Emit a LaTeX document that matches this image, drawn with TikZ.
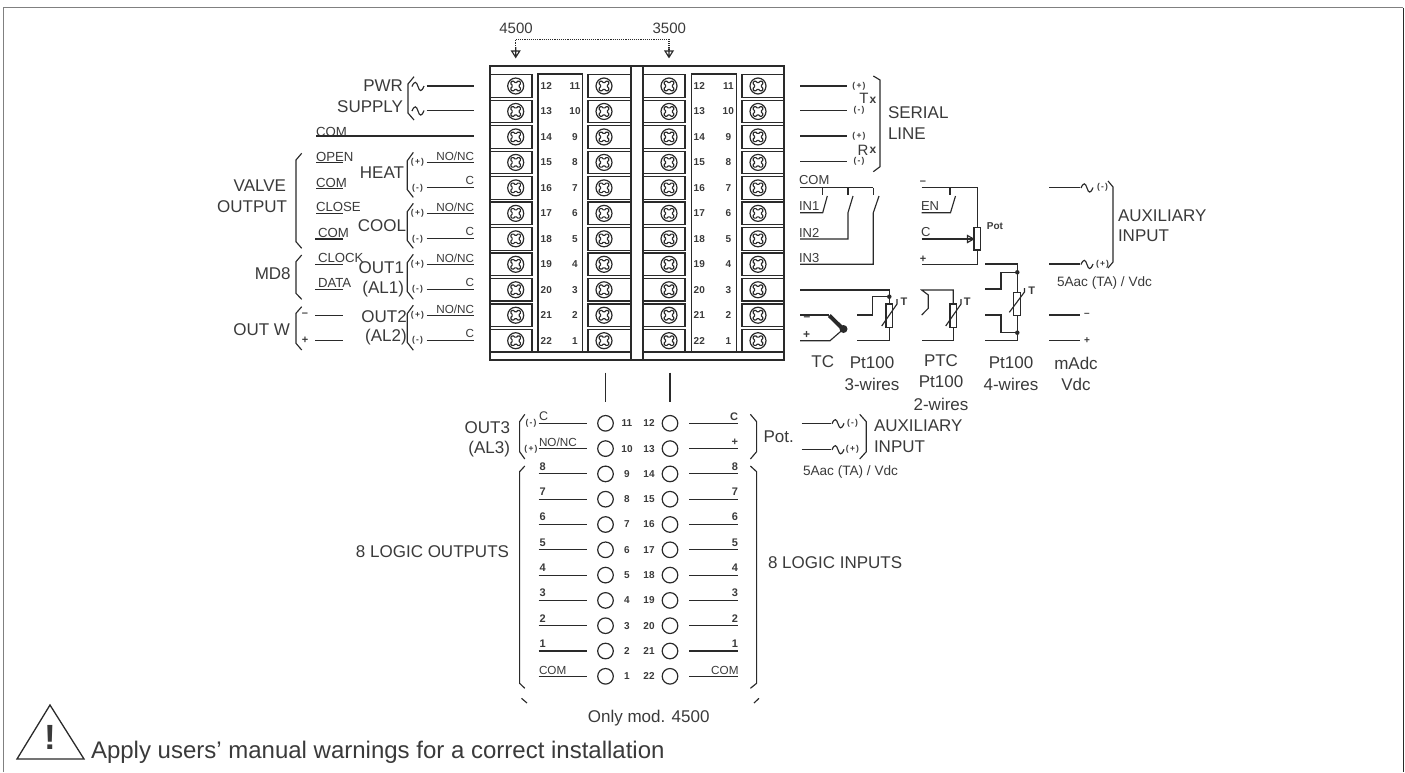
\documentclass[tikz,border=0pt]{standalone}
\usepackage{fontspec}
\setmainfont{Liberation Sans}
\usetikzlibrary{arrows.meta}
\definecolor{ink}{HTML}{2A2A2A}
\definecolor{txt}{HTML}{3A3A3A}
\newcounter{nn}
\newcommand{\fs}[1]{\fontsize{#1}{#1}\selectfont}
% \TT{options}{x}{y}{size}{text}
\newcommand{\TT}[5]{\stepcounter{nn}\node[lab,#1,font=\fs{#4}] (t\thenn) at (#2,#3) {#5};}
\newcommand{\BT}[5]{\stepcounter{nn}\node[lab,#1,font=\fs{#4}\bfseries] (t\thenn) at (#2,#3) {#5};}
\newcommand{\PM}[3]{\stepcounter{nn}\node[lab,font=\fs{8.5}\bfseries] (t\thenn) at (#1,#2) {(\kern1.2pt#3\kern1.2pt)};}
\newcommand{\wave}[2]{\draw[wire] (#1,#2) .. controls ({#1+2.5},{#2-6}) and ({#1+4.5},{#2-5}) .. ({#1+6},{#2}) .. controls ({#1+7.5},{#2+5}) and ({#1+9.5},{#2+6}) .. ({#1+12},{#2-0.5});}
\newcommand{\screw}[2]{\draw[screwl] (#1,#2) circle (8);
  \draw[screwl,line width=1.1pt,rounded corners=1.2pt,rotate around={45:(#1,#2)}]
   ({#1-1.9},{#2-1.9}) -- ({#1-1.9},{#2-6}) -- ({#1+1.9},{#2-6}) -- ({#1+1.9},{#2-1.9}) --
   ({#1+6},{#2-1.9}) -- ({#1+6},{#2+1.9}) -- ({#1+1.9},{#2+1.9}) -- ({#1+1.9},{#2+6}) --
   ({#1-1.9},{#2+6}) -- ({#1-1.9},{#2+1.9}) -- ({#1-6},{#2+1.9}) -- ({#1-6},{#2-1.9}) -- cycle;}
\tikzset{
  lab/.style={inner sep=0pt,outer sep=0pt,text=txt},
  wire/.style={draw=ink,line width=1.15pt},
  box/.style={draw=ink,line width=1.2pt},
  screwl/.style={draw=ink,line width=1.2pt},
  blk/.style={fill=ink,circle,inner sep=0pt,minimum size=4.5pt},
}
\begin{document}
\begin{tikzpicture}[x=1pt,y=-1pt]
\useasboundingbox (0,0) rectangle (1405,772);
% frame
\draw[draw=gray,line width=1pt] (3.5,772) -- (3.5,7.5) -- (1403,7.5);
\draw[draw=ink,line width=1pt] (1403,7.5) -- (1403,772);
% block outline
\draw[box] (490,360) -- (490,66) -- (784,66) -- (784,360) -- cycle;
\draw[box] (631,66) -- (631,360) (643,66) -- (643,360);
\draw[box] (490,352) -- (631,352) (643,352) -- (784,352);
\draw[box] (538,352) -- (538,74) -- (582.7,74) -- (582.7,352);
\draw[box] (691.7,352) -- (691.7,74) -- (736.7,74) -- (736.7,352);
\foreach \i in {0,...,10}{
  \pgfmathsetmacro{\yy}{86+25.47*\i}
  \draw[box] (490,\yy-11.3) rectangle (532,\yy+11.3);
  \draw[box] (588,\yy-11.3) rectangle (631,\yy+11.3);
  \draw[box] (643,\yy-11.3) rectangle (685,\yy+11.3);
  \draw[box] (742,\yy-11.3) rectangle (784,\yy+11.3);
  \screw{515.7}{\yy}\screw{604}{\yy}\screw{669}{\yy}\screw{758}{\yy}
  \pgfmathtruncatemacro{\na}{12+\i}\pgfmathtruncatemacro{\nb}{11-\i}
  \BT{}{546.3}{\yy}{10}{\na}\BT{}{575}{\yy}{10}{\nb}
  \BT{}{699.3}{\yy}{10}{\na}\BT{}{728.3}{\yy}{10}{\nb}
}
% model arrows
\TT{}{516}{28}{15}{4500}\TT{}{669.3}{28}{15}{3500}
\draw[wire,densely dotted] (515.7,50) -- (515.7,39.3) -- (669,39.3) -- (669,50);
\draw[wire] (511.7,51) -- (519.7,51) -- (515.7,57.3) -- cycle (515.7,47) -- (515.7,57.3);
\draw[wire] (665,51) -- (673,51) -- (669,57.3) -- cycle (669,47) -- (669,57.3);
% left side top
\TT{anchor=east}{403}{86}{17}{PWR}\TT{anchor=east}{403}{107}{17}{SUPPLY}
\draw[wire] (414,76.7) -- (408,84) -- (408,113) -- (414,120);
\wave{412}{86.5}\wave{412}{111}
\draw[wire] (426.7,86) -- (474,86) (426.7,110.7) -- (474,110.7);
\TT{anchor=west}{316}{131.7}{13.2}{COM}
\draw[wire] (316,136) -- (474,136);
\TT{anchor=west}{316}{157}{13.2}{OPEN}\draw[wire] (316,162.7) -- (343,162.7);
\TT{anchor=west}{316}{182.7}{13.2}{COM}\draw[wire] (316,188.3) -- (343,188.3);
\TT{anchor=west}{316}{207.3}{13.2}{CLOSE}\draw[wire] (316,213.3) -- (343,213.3);
\TT{anchor=west}{318}{233}{13.2}{COM}\draw[wire] (315,239) -- (343,239);
\TT{anchor=west}{318}{257.7}{13.2}{CLOCK}\draw[wire] (315,264.3) -- (343,264.3);
\TT{anchor=west}{318}{282.7}{13.2}{DATA}\draw[wire] (315,289.3) -- (343,289.3);
\BT{}{305}{314.5}{11}{–}\draw[wire] (315,315.5) -- (343,315.5);
\BT{}{305}{340.7}{11}{+}\draw[wire] (315,340.7) -- (343,340.7);
% left brackets
\draw[wire] (301.7,153.3) -- (296,160) -- (296,241.7) -- (301.7,248.3);
\draw[wire] (301.7,255) -- (296,261.7) -- (296,293.3) -- (301.7,299.3);
\draw[wire] (301.7,306.7) -- (296,313.3) -- (296,343.3) -- (301.7,350);
\TT{anchor=east}{286}{186}{17}{VALVE}\TT{anchor=east}{287}{207}{17}{OUTPUT}
\TT{anchor=east}{290.7}{274}{17}{MD8}\TT{anchor=east}{290}{330}{17}{OUT W}
\TT{anchor=east}{404}{173}{17}{HEAT}\TT{anchor=east}{406}{225.7}{17}{COOL}
\TT{anchor=east}{404}{268}{17}{OUT1}\TT{anchor=east}{404}{289}{17}{(AL1)}
\TT{anchor=east}{406.7}{316.7}{17}{OUT2}\TT{anchor=east}{406.7}{337}{17}{(AL2)}
\foreach \j in {3,5,7,9}{
  \pgfmathsetmacro{\ya}{86+25.47*\j}\pgfmathsetmacro{\yb}{86+25.47*(\j+1)}
  \draw[wire] (413.3,\ya-10) -- (407.3,\ya-1.7) -- (407.3,\yb+1.7) -- (413.3,\yb+9.5);
  \draw[wire] (426.7,\ya) -- (474,\ya) (426.7,\yb) -- (474,\yb);
  \PM{417.5}{\ya}{+}\PM{417.5}{\yb}{-}
  \TT{anchor=east}{474}{\ya-6.3}{11.7}{NO/NC}
  \TT{anchor=east}{474}{\yb-7}{11.7}{C}
}
% serial line
\foreach \y/\s in {86/+,110.7/-,136/+,161.7/-}{
  \draw[wire] (800,\y) -- (846.7,\y);
  \PM{859}{\y}{\s}
}
\draw[wire] (873.3,76) -- (880,80) -- (880,166.7) -- (873.3,171.7);
\TT{}{864}{98.3}{15}{T}\BT{}{873}{100}{12}{x}
\TT{}{863}{150}{15}{R}\BT{}{873}{150.5}{12}{x}
\TT{anchor=west}{888}{113}{17}{SERIAL}\TT{anchor=west}{888}{134}{17}{LINE}
% switches
\TT{anchor=west}{799}{180.5}{13}{COM}
\draw[wire] (800,187.7) -- (873.3,187.7) (822.3,187.7) -- (822.3,195) (848,187.7) -- (848,195) (873.3,187.7) -- (873.3,195);
\draw[wire] (800,212.7) -- (822.7,212.7) -- (827.3,196);
\draw[wire] (800,239) -- (848,239) -- (848,212.7) -- (853,196);
\draw[wire] (800,264.3) -- (873.3,264.3) -- (873.3,212.7) -- (879,196);
\TT{anchor=west}{799}{206.5}{13}{IN1}\TT{anchor=west}{799}{233}{13}{IN2}\TT{anchor=west}{799}{258}{13}{IN3}
% potentiometer
\BT{}{923}{182.5}{11}{–}\BT{}{923}{259.5}{11}{+}
\TT{anchor=west}{921}{206}{13}{EN}\TT{anchor=west}{921}{232}{13}{C}
\draw[wire] (921.7,187.7) -- (977.3,187.7) -- (977.3,227.3) (950,187.7) -- (950,195);
\draw[wire] (921.7,212.7) -- (950.5,212.7) -- (955.5,196);
\draw[wire] (921.7,239) -- (974,239);
\draw[wire] (967.5,235.5) -- (967.5,242.5) -- (973.7,239) -- cycle;
\draw[box] (974,227.3) rectangle (980.7,250);
\draw[wire] (977.3,250) -- (977.3,264.3) -- (921.7,264.3);
\BT{}{995}{226}{10}{Pot}
% Pt100 3 wires and TC
\draw[wire] (800,290) -- (889.3,290) -- (889.3,304) (889.3,327.3) -- (889.3,340.7) -- (857.3,340.7);
\draw[wire] (857.3,315) -- (872.7,315) -- (872.7,296.7) -- (889.3,296.7);
\node[blk] (d1) at (889.3,296.7) {};
\draw[box] (886,304) rectangle (892.7,327.3);
\draw[wire] (881.7,326) -- (897,304) -- (897,299);
\BT{}{904}{302}{11}{T}
\draw[wire] (800,315) -- (829.3,315);
\draw[wire,line width=4pt] (829.3,315.5) -- (843,329);
\node[blk,minimum size=8pt] (d2) at (843.5,329) {};
\draw[wire] (800,340.7) -- (830,340.7) -- (843.5,329);
\BT{}{807}{319}{12}{–}\BT{}{806.7}{335}{12}{+}
% PTC
\draw[wire] (921.7,315) -- (928.3,308.3) -- (928.3,295) -- (921.7,290) -- (953.3,290) -- (953.3,304);
\draw[wire] (953.3,327.3) -- (953.3,340.7) -- (921.7,340.7);
\draw[box] (950,304) rectangle (956.7,327.3);
\draw[wire] (945.7,326) -- (961,304) -- (961,299);
\BT{}{967.3}{302}{11}{T}
% Pt100 4 wires
\draw[wire] (985,264) -- (1017.3,264) -- (1017.3,292.7) (1017.3,315.3) -- (1017.3,340.7) -- (985,340.7);
\draw[wire] (985,289) -- (1001,289) -- (1001,272.3) -- (1017.3,272.3);
\draw[wire] (985,315) -- (1001,315) -- (1001,332.7) -- (1017.3,332.7);
\node[blk] (d3) at (1017.3,272.3) {};
\node[blk] (d4) at (1017.3,332.7) {};
\draw[box] (1013.8,292.7) rectangle (1020.7,315.3);
\draw[wire] (1009.3,312.3) -- (1024.5,292) -- (1024.5,288);
\BT{}{1031.7}{291}{11}{T}
% mAdc
\draw[wire] (1049,315) -- (1080,315) (1049,340.7) -- (1080,340.7);
\BT{}{1087}{315}{10}{–}\BT{}{1087}{340.7}{10}{+}
% auxiliary
\draw[wire] (1049,187.7) -- (1080,187.7) (1049,264) -- (1080,264);
\wave{1081}{188}\wave{1081}{264.5}
\PM{1102.5}{187.7}{-}\PM{1102.5}{264}{+}
\draw[wire] (1108,181) -- (1113,187) -- (1113,262) -- (1108,268);
\TT{anchor=west}{1118}{216}{17}{AUXILIARY}\TT{anchor=west}{1118}{236}{17}{INPUT}
\TT{anchor=west}{1057}{283}{13.6}{5Aac (TA) / Vdc}
% input type labels
\TT{}{822.7}{362}{17}{TC}
\TT{}{872}{363}{17}{Pt100}\TT{}{872}{384}{17}{3-wires}
\TT{}{941}{361}{17}{PTC}\TT{}{941}{382}{17}{Pt100}\TT{}{941}{404}{17}{2-wires}
\TT{}{1011}{363}{17}{Pt100}\TT{}{1011}{384}{17}{4-wires}
\TT{}{1076}{363}{17}{mAdc}\TT{}{1076}{384}{17}{Vdc}
% link lines
\draw[wire] (605.5,372.5) -- (605.5,401.8) (670,372.5) -- (670,401.8);
% lower terminals
\foreach \i/\nl/\nr/\tl/\tr in {0/11/12/C/C,1/10/13/NO\slash NC/+,2/9/14/8/8,3/8/15/7/7,4/7/16/6/6,5/6/17/5/5,6/5/18/4/4,7/4/19/3/3,8/3/20/2/2,9/2/21/1/1,10/1/22/COM/COM}{
  \pgfmathsetmacro{\yy}{423.3+25.3*\i}
  \draw[screwl] (605.5,\yy) circle (7.8) (670,\yy) circle (7.8);
  \draw[wire] (538.6,\yy) -- (587,\yy) (689,\yy) -- (738.3,\yy);
  \BT{}{627}{\yy}{10}{\nl}\BT{}{649}{\yy}{10}{\nr}
  \ifnum\i<2 \else\ifnum\i=10 \else
    \BT{anchor=west}{539.5}{\yy-7.5}{11}{\tl}\BT{anchor=east}{738}{\yy-7.5}{11}{\tr}
  \fi\fi
}
\TT{anchor=west}{539}{416.5}{12.5}{C}\BT{anchor=east}{738}{416.5}{11}{C}
\TT{anchor=west}{539}{442.5}{11.7}{NO/NC}\BT{anchor=east}{738}{442.5}{11}{+}
\TT{anchor=west}{539}{670}{11.7}{COM}\TT{anchor=east}{738.5}{670}{11.7}{COM}
\PM{531}{423.3}{-}\PM{531}{449.3}{+}
\draw[wire] (524.8,414.3) -- (519.6,421.7) -- (519.6,451.7) -- (524.8,459);
\draw[wire] (750.4,414.3) -- (756.6,421.7) -- (756.6,451.7) -- (750.4,459);
\draw[wire] (524.8,466) -- (519.6,471.7) -- (519.6,683.3) -- (524.8,688.3);
\draw[wire] (750.4,466) -- (756.6,471.7) -- (756.6,683.3) -- (750.4,688.3);
\draw[wire] (521.5,698.3) -- (527,703) (759,698.3) -- (754,703);
\TT{anchor=east}{510}{428}{17}{OUT3}\TT{anchor=east}{510}{449.3}{17}{(AL3)}
\TT{anchor=west}{763.5}{436.7}{17}{Pot.}
\draw[wire] (801.6,423.3) -- (831,423.3) (801.6,449.3) -- (831,449.3);
\wave{832}{423.8}\wave{832}{449.8}
\PM{852.5}{423.3}{-}\PM{852.5}{449.3}{+}
\draw[wire] (859.7,414.3) -- (866.3,421.7) -- (866.3,451.7) -- (859.7,459);
\TT{anchor=west}{874}{425.7}{17}{AUXILIARY}\TT{anchor=west}{874}{446.7}{17}{INPUT}
\TT{anchor=west}{803}{471.7}{13.6}{5Aac (TA) / Vdc}
\TT{anchor=west}{768}{562.7}{17}{8 LOGIC INPUTS}
\TT{anchor=east}{509}{551.7}{17}{8 LOGIC OUTPUTS}
\TT{}{648.7}{718.3}{17}{Only mod. 4500}
% warning
\draw[draw=ink,line width=1.3pt,line join=miter] (50,705) -- (84,759) -- (17,759) -- cycle;
\BT{}{50}{737.5}{35}{!}
\TT{anchor=base west}{91}{758}{24}{Apply users’ manual warnings for a correct installation}
\end{tikzpicture}
\end{document}
